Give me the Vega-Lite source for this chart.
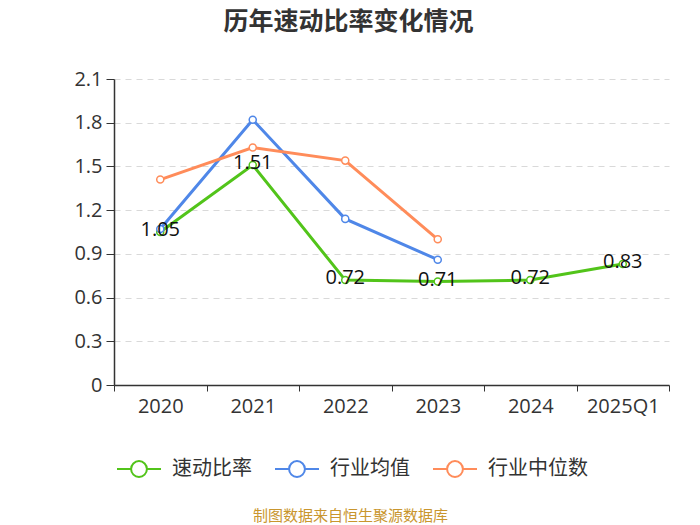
{
  "$schema": "https://vega.github.io/schema/vega-lite/v6.json",
  "autosize": {"type": "none"},
  "padding": {"left": 114, "top": 79, "right": 31, "bottom": 140},
  "width": 555,
  "height": 306,
  "background": "white",
  "title": {
    "text": "历年速动比率变化情况",
    "fontSize": 25,
    "fontWeight": "bold",
    "color": "#333333",
    "font": "Noto Sans CJK SC",
    "anchor": "middle",
    "dx": -43,
    "offset": 34
  },
  "config": {
    "font": "Open Sans, Noto Sans CJK SC",
    "view": {"stroke": null}
  },
  "data": {
    "values": [
      {"year": "2020", "series": "速动比率", "value": 1.05},
      {"year": "2021", "series": "速动比率", "value": 1.51},
      {"year": "2022", "series": "速动比率", "value": 0.72},
      {"year": "2023", "series": "速动比率", "value": 0.71},
      {"year": "2024", "series": "速动比率", "value": 0.72},
      {"year": "2025Q1", "series": "速动比率", "value": 0.83},
      {"year": "2020", "series": "行业均值", "value": 1.07},
      {"year": "2021", "series": "行业均值", "value": 1.82},
      {"year": "2022", "series": "行业均值", "value": 1.14},
      {"year": "2023", "series": "行业均值", "value": 0.86},
      {"year": "2020", "series": "行业中位数", "value": 1.41},
      {"year": "2021", "series": "行业中位数", "value": 1.63},
      {"year": "2022", "series": "行业中位数", "value": 1.54},
      {"year": "2023", "series": "行业中位数", "value": 1.0}
    ]
  },
  "encoding": {
    "x": {
      "field": "year",
      "type": "nominal",
      "sort": ["2020", "2021", "2022", "2023", "2024", "2025Q1"],
      "scale": {"domain": ["2020", "2021", "2022", "2023", "2024", "2025Q1"]},
      "axis": {
        "title": "制图数据来自恒生聚源数据库",
        "titleColor": "#C9962E",
        "titleFont": "Noto Sans CJK SC",
        "titleFontSize": 15,
        "titleFontWeight": "normal",
        "titleX": 236,
        "titleY": 130,
        "titleBaseline": "middle",
        "labelAngle": 0,
        "labelFontSize": 20,
        "labelColor": "#333333",
        "labelPadding": 5,
        "tickBand": "extent",
        "tickSize": 6,
        "tickColor": "#333333",
        "domainColor": "#333333",
        "domainWidth": 1.5,
        "grid": false
      }
    },
    "y": {
      "field": "value",
      "type": "quantitative",
      "scale": {"domain": [0, 2.1], "nice": false},
      "axis": {
        "title": null,
        "values": [0, 0.3, 0.6, 0.9, 1.2, 1.5, 1.8, 2.1],
        "format": ".1~f",
        "labelFontSize": 20,
        "labelColor": "#333333",
        "labelPadding": 4,
        "tickSize": 8,
        "tickColor": "#333333",
        "domainColor": "#333333",
        "domainWidth": 1.5,
        "gridColor": "#d9d9d9",
        "gridDash": [6, 5],
        "gridWidth": 1
      }
    },
    "color": {
      "field": "series",
      "type": "nominal",
      "scale": {
        "domain": ["速动比率", "行业均值", "行业中位数"],
        "range": ["#52C41A", "#4F87E8", "#FF8C5A"]
      },
      "legend": {
        "title": null,
        "orient": "none",
        "direction": "horizontal",
        "legendX": 2,
        "legendY": 367,
        "symbolType": "M-1,0L-0.36,0M0.36,0L1,0M-0.36,0A0.36,0.36 0 1,0 0.36,0A0.36,0.36 0 1,0 -0.36,0",
        "symbolSize": 1936,
        "symbolStrokeWidth": 2,
        "symbolFillColor": "white",
        "labelFont": "Noto Sans CJK SC",
        "labelFontSize": 20,
        "labelColor": "#333333",
        "labelOffset": 10,
        "columnPadding": 19,
        "encode": {"symbols": {"update": {"fill": {"value": "white"}}}}
      }
    }
  },
  "layer": [
    {
      "mark": {"type": "line", "strokeWidth": 3}
    },
    {
      "mark": {"type": "point", "filled": false, "fill": "white", "opacity": 1, "size": 50, "strokeWidth": 1.5}
    },
    {
      "transform": [{"filter": "datum.series == '速动比率'"}],
      "mark": {"type": "text", "fontSize": 20, "dy": -2},
      "encoding": {
        "text": {"field": "value", "type": "quantitative", "format": ".2f"},
        "color": {"value": "#111111"}
      }
    }
  ]
}
